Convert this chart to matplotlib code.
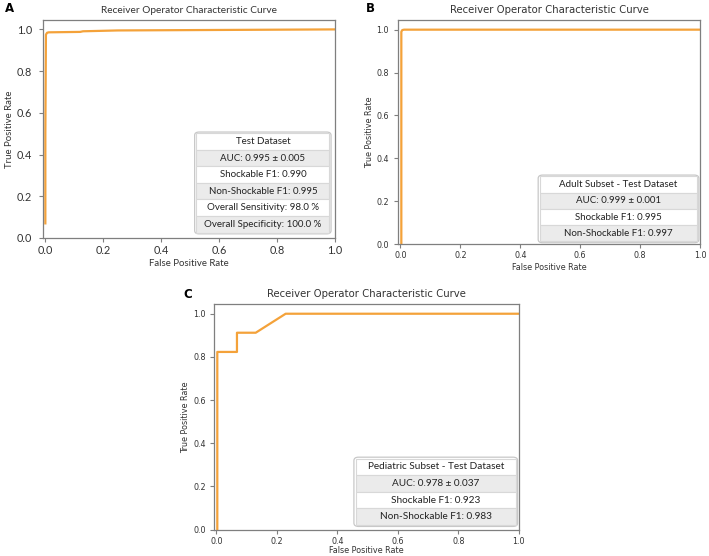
import matplotlib
matplotlib.use('Agg')
import matplotlib.pyplot as plt
from matplotlib.patches import FancyBboxPatch

# ROC curves
fpr_a = [0.0, 0.0, 0.002, 0.006, 0.012, 0.12, 0.13, 0.25, 1.0]
tpr_a = [0.07, 0.50, 0.975, 0.984, 0.986, 0.988, 0.991, 0.995, 1.0]

fpr_b = [0.003, 0.003, 0.006, 0.012, 1.0]
tpr_b = [0.0, 0.99, 0.998, 1.0, 1.0]

fpr_c = [0.003, 0.003, 0.068, 0.068, 0.13, 0.229, 1.0]
tpr_c = [0.0, 0.823, 0.823, 0.912, 0.912, 1.0, 1.0]

rows_a = ["Test Dataset", "AUC: 0.995 ± 0.005", "Shockable F1: 0.990",
          "Non-Shockable F1: 0.995", "Overall Sensitivity: 98.0 %",
          "Overall Specificity: 100.0 %"]
rows_b = ["Adult Subset - Test Dataset", "AUC: 0.999 ± 0.001",
          "Shockable F1: 0.995", "Non-Shockable F1: 0.997"]
rows_c = ["Pediatric Subset - Test Dataset", "AUC: 0.978 ± 0.037",
          "Shockable F1: 0.923", "Non-Shockable F1: 0.983"]

ticks = [0.0, 0.2, 0.4, 0.6, 0.8, 1.0]
ORANGE = '#f4a23a'
GREY = '#7f7f7f'
TXT = '#333333'


def roc_panel(ax, fpr, tpr, rows, box, font, tick_fs, lab_fs, title_fs, tab_fs,
              ypad=3, xlabpad=2):
    ax.plot(fpr, tpr, color=ORANGE, lw=1.6, solid_joinstyle='round')
    ax.set_xlim(-0.008, 1.0)
    ax.set_ylim(0.0, 1.045)
    ax.set_xticks(ticks)
    ax.set_yticks(ticks)
    ax.set_xticklabels([f"{t:.1f}" for t in ticks], family=font)
    ax.set_yticklabels([f"{t:.1f}" for t in ticks], family=font)
    ax.tick_params(labelsize=tick_fs, labelcolor=TXT, color=GREY, length=3,
                   width=0.8, pad=2)
    ax.tick_params(axis='y', pad=ypad)
    for s in ax.spines.values():
        s.set_color(GREY)
        s.set_linewidth(0.9)
    ax.set_xlabel("False Positive Rate", fontsize=lab_fs, color=TXT,
                  labelpad=xlabpad, family=font)
    ax.set_ylabel("True Positive Rate", fontsize=lab_fs, color=TXT, labelpad=2,
                  family=font)
    ax.set_title("Receiver Operator Characteristic Curve", fontsize=title_fs,
                 color=TXT, pad=5, family=font)

    x0, y0, w, h = box
    frame = FancyBboxPatch((x0, y0), w, h, boxstyle="round,pad=0.006,rounding_size=0.015",
                           transform=ax.transAxes, facecolor='white',
                           edgecolor='#c8c8c8', lw=0.9, zorder=4)
    ax.add_patch(frame)
    colors = [['white'] if i % 2 == 0 else ['#ebebeb'] for i in range(len(rows))]
    tb = ax.table(cellText=[[r] for r in rows], cellColours=colors,
                  cellLoc='center', bbox=[x0, y0, w, h], zorder=5)
    tb.auto_set_font_size(False)
    for (r, c), cell in tb.get_celld().items():
        cell.set_edgecolor('#d8d8d8')
        cell.set_linewidth(0.8)
        cell.get_text().set_fontsize(tab_fs)
        cell.get_text().set_family('Lato')
        cell.get_text().set_color('#222222')


fig = plt.figure(figsize=(7.09, 5.56), dpi=100)
ax_a = fig.add_axes([0.0607, 0.572, 0.412, 0.392])
ax_b = fig.add_axes([0.5614, 0.561, 0.426, 0.403])
ax_c = fig.add_axes([0.3018, 0.0475, 0.430, 0.4057])

roc_panel(ax_a, fpr_a, tpr_a, rows_a, (0.525, 0.025, 0.455, 0.455),
          'Lato', 7.8, 6.9, 7.3, 7.0, ypad=5)
roc_panel(ax_b, fpr_b, tpr_b, rows_b, (0.47, 0.012, 0.52, 0.29),
          'DejaVu Sans', 5.8, 5.8, 7.3, 7.0, ypad=3.5)
roc_panel(ax_c, fpr_c, tpr_c, rows_c, (0.465, 0.02, 0.525, 0.295),
          'DejaVu Sans', 5.8, 5.8, 7.3, 7.2, xlabpad=0.5)

for letter, x, y in [("A", 5, 8), ("B", 366, 8), ("C", 183, 295)]:
    fig.text(x / 709, 1 - y / 556, letter, fontsize=8.5, fontweight='bold',
             ha='left', va='center')

plt.savefig("out.png", dpi=100)
plt.close()
